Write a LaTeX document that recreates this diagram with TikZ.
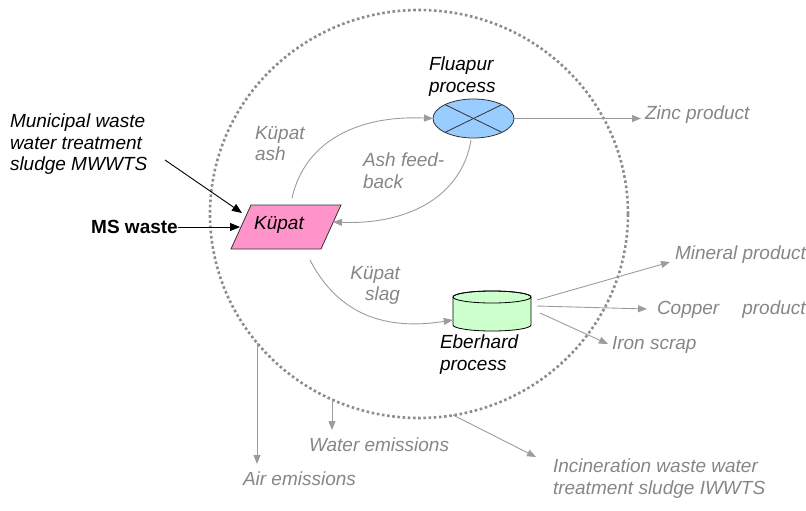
\documentclass[tikz,border=0pt]{standalone}
\usepackage{fontspec}
\setmainfont{Liberation Sans}
\usetikzlibrary{arrows.meta,shapes.geometric}

\definecolor{lblgray}{HTML}{868686}
\definecolor{linegray}{HTML}{9C9C9C}
\definecolor{ringgray}{HTML}{8C8C8C}
\definecolor{kupink}{HTML}{FF94CA}
\definecolor{fluablue}{HTML}{99CCFF}
\definecolor{ebgreen}{HTML}{CCFFCC}
\definecolor{edgedark}{HTML}{333333}

\begin{document}
\begin{tikzpicture}[x=1pt,y=-1pt,
  txt/.style={font=\fontsize{19}{21.5}\selectfont\itshape, inner sep=0pt, outer sep=0pt, align=left},
  gtxt/.style={txt, text=lblgray},
  garrow/.style={draw=linegray, line width=0.9pt, -{Triangle[length=9pt,width=7pt]}},
  barrow/.style={draw=black, line width=0.9pt, -{Triangle[length=10pt,width=8pt]}},
]
\useasboundingbox (0,0) rectangle (806,511);

% system boundary
\draw[ringgray, line width=2.6pt, dash pattern=on 2.6pt off 2.6pt]
  (419,214) ellipse [x radius=209pt, y radius=204pt];

% Kuepat reactor (parallelogram)
\draw[fill=kupink, draw=edgedark, line width=0.8pt]
  (231,249) -- (251,205) -- (341,205) -- (321,249) -- cycle;
\node[txt, anchor=base] (kup) at (279,229) {Küpat};
\coordinate (kupL1) at (242,213);
\coordinate (kupL2) at (240,227);
\coordinate (kupR)  at (333,222);
\coordinate (kupT)  at (292,198);
\coordinate (kupB)  at (310,260);

% Fluapur process
\node[ellipse, draw=edgedark, fill=fluablue, line width=0.8pt,
      minimum width=81pt, minimum height=39pt, inner sep=0pt, outer sep=0pt]
      (flu) at (473.5,118.5) {};
\draw[edgedark, line width=0.8pt] (flu.154) -- (flu.334);
\draw[edgedark, line width=0.8pt] (flu.26) -- (flu.206);
\node[txt, anchor=north west] (flut) at (429,57) {Fluapur\\process};
\coordinate (fluB) at (471,140);

% Eberhard process (cylinder)
\node[minimum width=78pt, minimum height=40pt, inner sep=0pt] (eb) at (492,311) {};
\filldraw[fill=ebgreen, draw=black, line width=0.8pt]
  (453,297) -- (453,325) arc[start angle=180, end angle=360, x radius=39pt, y radius=6pt]
  -- (531,297) arc[start angle=0, end angle=180, x radius=39pt, y radius=6pt] -- cycle;
\draw[black, line width=0.8pt] (492,297) ellipse [x radius=39pt, y radius=6pt];
\node[txt, anchor=north west] (ebt) at (440,335) {Eberhard\\process};
\coordinate (ebO1) at (537,300);
\coordinate (ebO2) at (537,306);
\coordinate (ebO3) at (540,313);

% inputs
\node[txt, anchor=north west] (mwwts) at (10,114) {Municipal waste\\water treatment\\sludge MWWTS};
\node[font=\fontsize{19}{21.5}\selectfont\bfseries, inner sep=0pt, anchor=base east] (msw) at (178,233) {MS waste};
\coordinate (mwwtsO) at (165,160);
\draw[barrow] (mwwtsO) -- (kupL1);
\draw[barrow] (msw.east |- kupL2) -- (kupL2);

% internal flows
\draw[garrow] (kupT) .. controls (305,140) and (360,115) .. (flu.west);
\node[gtxt, anchor=north west] (ash) at (255,126) {Küpat\\ash};
\draw[garrow] (fluB) .. controls (462,195) and (410,225) .. (kupR);
\node[gtxt, anchor=north west] (feed) at (363,153) {Ash feed-\\back};
\draw[garrow] (kupB) .. controls (340,318) and (390,330) .. (eb.west |- 0,320);
\node[gtxt, anchor=north east, align=right] (slag) at (400,266) {Küpat\\slag};

% products
\node[gtxt, anchor=base west] (zinc) at (645,119) {Zinc product};
\coordinate (zincT) at (641,118.5);
\draw[garrow] (flu.east) -- (zincT);
\node[gtxt, anchor=base west] (mineral) at (675,259) {Mineral product};
\node[gtxt, anchor=base west] (copper) at (657,314) {Copper\hspace{23pt}product};
\node[gtxt, anchor=base west] (iron) at (612,349) {Iron scrap};
\coordinate (minT) at (670,262);
\coordinate (copT) at (647,309);
\coordinate (ironT) at (608,344);
\draw[garrow] (ebO1) -- (minT);
\draw[garrow] (ebO2) -- (copT);
\draw[garrow] (ebO3) -- (ironT);

% emissions
\node[gtxt, anchor=base west] (air) at (243,485) {Air emissions};
\node[gtxt, anchor=base west] (water) at (309,451) {Water emissions};
\node[gtxt, anchor=north west] (iwwts) at (553,459) {Incineration waste water\\treatment sludge IWWTS};
\coordinate (airS) at (257,343);
\coordinate (airT) at (257,464);
\coordinate (watS) at (332,399);
\coordinate (watT) at (332,430);
\coordinate (incS) at (453,415);
\coordinate (incT) at (536,457);
\draw[garrow] (airS) -- (airT);
\draw[garrow] (watS) -- (watT);
\draw[garrow] (incS) -- (incT);
\end{tikzpicture}
\end{document}
